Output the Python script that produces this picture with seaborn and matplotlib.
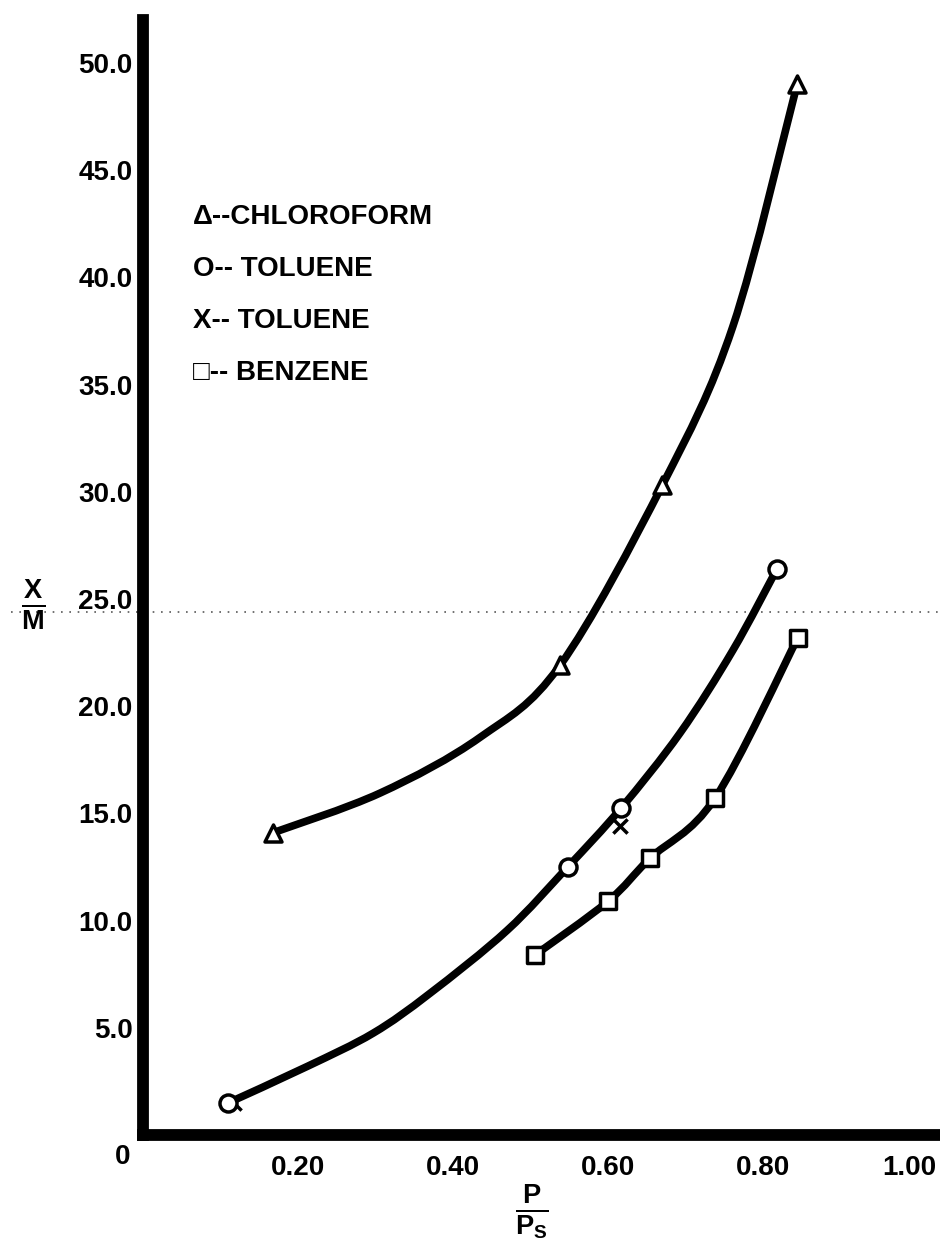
import matplotlib
matplotlib.use("Agg")
import matplotlib.pyplot as plt
import matplotlib.transforms as mtransforms
from matplotlib.path import Path
from matplotlib.patches import PathPatch
import seaborn as sns
import numpy as np

# ---- data (x = P/Ps, y = X/M) ----
chloro_x = [0.168, 0.538, 0.670, 0.844]
chloro_y = [14.1, 21.9, 30.3, 49.0]
tol_o_x = [0.110, 0.548, 0.617, 0.818]
tol_o_y = [1.5, 12.5, 15.25, 26.4]
tol_x_x = [0.118, 0.615]
tol_x_y = [1.5, 14.4]
benz_x = [0.506, 0.600, 0.654, 0.738, 0.845]
benz_y = [8.4, 10.9, 12.9, 15.7, 23.2]

# hand-drawn curves
chloro_curve_x = [0.168, 0.306, 0.435, 0.538, 0.670, 0.761, 0.844]
chloro_curve_y = [14.1, 15.95, 18.55, 21.9, 30.3, 37.7, 49.0]
tol_curve_x = [0.110, 0.212, 0.297, 0.370, 0.470, 0.548, 0.617, 0.693, 0.761, 0.818]
tol_curve_y = [1.5, 3.2, 4.75, 6.6, 9.55, 12.5, 15.25, 18.75, 22.6, 26.4]
benz_curve_x = [0.506, 0.600, 0.654, 0.738, 0.845]
benz_curve_y = [8.4, 10.9, 12.9, 15.7, 23.2]

y_ticks = [5, 10, 15, 20, 25, 30, 35, 40, 45, 50]
x_ticks = [0.20, 0.40, 0.60, 0.80, 1.00]
x_tick_labels = ["0.20", "0.40", "0.60", "0.80", "1.00"]
legend_lines = ["\u0394--CHLOROFORM", "O-- TOLUENE", "X-- TOLUENE", "\u25a1-- BENZENE"]
scan_line_y = 24.4

sns.set_theme(style="white")
plt.rcParams['font.family'] = ['Liberation Sans', 'DejaVu Sans']
plt.rcParams['font.weight'] = 'bold'
plt.rcParams['text.color'] = 'black'
plt.rcParams['xtick.color'] = 'black'
plt.rcParams['ytick.color'] = 'black'
plt.rcParams['mathtext.fontset'] = 'custom'
plt.rcParams['mathtext.rm'] = 'Liberation Sans:bold'
plt.rcParams['mathtext.bf'] = 'Liberation Sans:bold'


def smooth_path(xs, ys):
    """Smooth (Catmull-Rom style) Bezier path through traced knots."""
    pts = np.column_stack([xs, ys]).astype(float)
    verts = [pts[0]]
    codes = [Path.MOVETO]
    n = len(pts)
    for i in range(n - 1):
        p0 = pts[i - 1] if i > 0 else pts[i]
        p1 = pts[i]
        p2 = pts[i + 1]
        p3 = pts[i + 2] if i + 2 < n else pts[i + 1]
        c1 = p1 + (p2 - p0) / 6.0
        c2 = p2 - (p3 - p1) / 6.0
        verts += [c1, c2, p2]
        codes += [Path.CURVE4] * 3
    return Path(verts, codes)


fig = plt.figure(figsize=(9.4, 12.5), dpi=100)
ax = fig.add_axes([143/940, 115/1250, (940-143)/940, (1135-20)/1250])

for cx, cy in [(chloro_curve_x, chloro_curve_y), (tol_curve_x, tol_curve_y),
               (benz_curve_x, benz_curve_y)]:
    ax.add_patch(PathPatch(smooth_path(cx, cy), facecolor="none", edgecolor="black",
                           linewidth=5.5, capstyle="round", joinstyle="round", zorder=3))

ms = 150
sns.scatterplot(x=chloro_x, y=chloro_y, marker="^", s=ms, facecolor="white",
                edgecolor="black", linewidth=2.5, ax=ax, zorder=5)
sns.scatterplot(x=tol_x_x, y=tol_x_y, marker="x", s=ms*0.7, color="black",
                linewidth=2.5, ax=ax, zorder=4)
sns.scatterplot(x=tol_o_x, y=tol_o_y, marker="o", s=ms, facecolor="white",
                edgecolor="black", linewidth=2.5, ax=ax, zorder=5)
sns.scatterplot(x=benz_x, y=benz_y, marker="s", s=ms*0.85, facecolor="white",
                edgecolor="black", linewidth=2.5, ax=ax, zorder=5)

# faint scanning artefact line
ax.plot([-0.17, 1.03], [scan_line_y, scan_line_y], ls=(0, (1, 4)), lw=1.2,
        color="0.35", clip_on=False, zorder=1)

ax.set_xlim(0, 797/775)
ax.set_ylim(0, 1115/21.44)
for side in ["top", "right"]:
    ax.spines[side].set_visible(False)
for side in ["left", "bottom"]:
    ax.spines[side].set_linewidth(8.5)
    ax.spines[side].set_color("black")
    ax.spines[side].set_capstyle("projecting")

ax.set_yticks(y_ticks)
ax.set_yticklabels([f"{v:.1f}" for v in y_ticks], fontsize=20, fontweight="bold")
ax.set_xticks(x_ticks)
ax.set_xticklabels(x_tick_labels, fontsize=20, fontweight="bold")
ax.tick_params(axis="both", direction="inout", length=9, width=4, color="black", pad=3)
ax.tick_params(axis="x", pad=10)
ax.set_xlabel("")
ax.set_ylabel("")
ax.grid(False)

# keep the last x label inside the figure
last = ax.get_xticklabels()[-1]
last.set_transform(last.get_transform() +
                   mtransforms.ScaledTranslation(-9/100, 0, fig.dpi_scale_trans))

fig.text(123/940, 1-1157/1250, "0", fontsize=20, fontweight="bold", ha="center", va="center")

# axis labels as fractions
fig.text(33/940, 1-605/1250, r"$\mathbf{\frac{X}{M}}$", fontsize=28, ha="center", va="center")
fig.text(532/940, 1-1212/1250, r"$\mathbf{\frac{P}{P_S}}$", fontsize=28, ha="center", va="center")

for i, t in enumerate(legend_lines):
    fig.text(193/940, 1-(217 + 52*i)/1250, t, fontsize=20, fontweight="bold",
             ha="left", va="center", family=['Liberation Sans', 'DejaVu Sans'])

fig.savefig("out.png", dpi=100, facecolor="white")
